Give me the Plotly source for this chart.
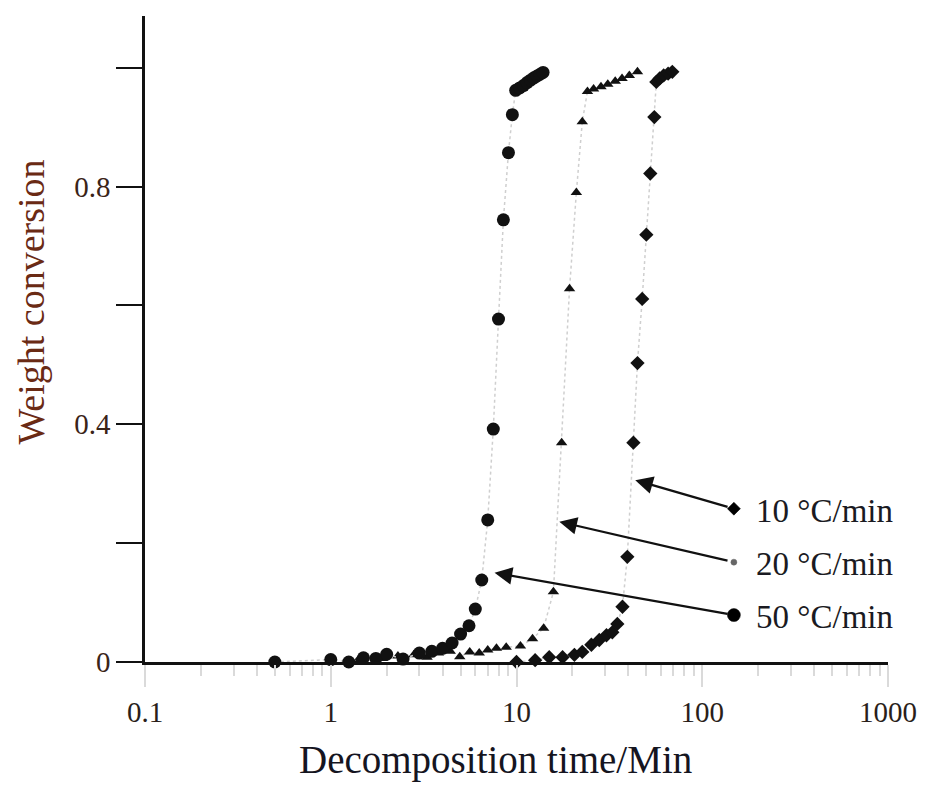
import numpy as np
import plotly.graph_objects as go

# ---------------- data ----------------
x50 = [0.5, 1.0, 1.25, 1.5, 1.75, 2.0, 2.45, 3.0, 3.5, 4.0, 4.5, 5.0, 5.55, 6.0, 6.5, 7.0, 7.5, 8.0, 8.5,
       9.05, 9.5, 9.9, 10.4, 10.9, 11.4, 11.9, 12.4, 12.9, 13.4, 13.9]
y50 = [0.0, 0.004, 0.0, 0.007, 0.006, 0.013, 0.005, 0.015, 0.018, 0.023, 0.032, 0.047, 0.061, 0.089, 0.138,
       0.239, 0.392, 0.577, 0.744, 0.857, 0.921, 0.962, 0.966, 0.970, 0.975, 0.979, 0.983, 0.986, 0.989, 0.992]

x20 = [1.4, 1.9, 2.3, 2.8, 3.3, 3.8, 4.4, 4.95, 5.6, 6.3, 7.0, 7.8, 8.8, 10.5, 12.2, 14.0, 15.8, 17.5, 19.3,
       21.0, 22.6, 24.1, 26.0, 28.5, 31.0, 34.0, 37.0, 40.5, 44.8]
y20 = [0.003, 0.006, 0.01, 0.012, 0.008, 0.015, 0.018, 0.009, 0.017, 0.015, 0.02, 0.023, 0.025, 0.027, 0.039,
       0.057, 0.118, 0.369, 0.628, 0.790, 0.909, 0.960, 0.964, 0.968, 0.972, 0.977, 0.982, 0.987, 0.993]

x10 = [10.0, 12.6, 15.0, 17.7, 20.5, 22.6, 25.3, 27.9, 30.5, 32.8, 34.9, 37.2, 39.5, 42.6, 44.8, 47.5, 50.0,
       52.5, 55.2, 56.6, 59.0, 62.0, 65.5, 69.0]
y10 = [0.0, 0.003, 0.008, 0.008, 0.012, 0.017, 0.029, 0.037, 0.045, 0.05, 0.064, 0.093, 0.177, 0.369, 0.503,
       0.611, 0.719, 0.822, 0.917, 0.976, 0.982, 0.987, 0.990, 0.993]

series_names = ["10 °C/min", "20 °C/min", "50 °C/min"]
# legend key positions (data coords) and arrow heads pointing at the curves
key_x = 148.0
key_y = [0.258, 0.168, 0.079]
arrow_head_x = [43.6, 17.0, 7.62]
arrow_head_y = [0.306, 0.236, 0.150]

x_tickvals = [0.1, 1, 10, 100, 1000]
x_ticktext = ["0.1", "1", "10", "100", "1000"]
y_tickvals = [0, 0.2, 0.4, 0.6, 0.8, 1.0]
y_ticktext = ["0", "", "0.4", "", "0.8", ""]

# ---------------- figure ----------------
SERIF = "Liberation Serif, Times New Roman, serif"
line_style = dict(color="#cfcfcf", width=1.5, dash="dot")

fig = go.Figure()
fig.add_trace(go.Scatter(x=x10, y=y10, mode="lines+markers", name=series_names[0], line=line_style,
                         marker=dict(symbol="diamond", size=11, color="#111111"), cliponaxis=False))
fig.add_trace(go.Scatter(x=x20, y=y20, mode="lines+markers", name=series_names[1], line=line_style,
                         marker=dict(symbol="triangle-up", size=10, color="#111111"), cliponaxis=False))
fig.add_trace(go.Scatter(x=x50, y=y50, mode="lines+markers", name=series_names[2], line=line_style,
                         marker=dict(symbol="circle", size=13, color="#111111"), cliponaxis=False))

for i in range(3):
    fig.add_annotation(x=np.log10(arrow_head_x[i]), y=arrow_head_y[i], xref="x", yref="y",
                       ax=np.log10(key_x), ay=key_y[i], axref="x", ayref="y",
                       text="", showarrow=True, arrowhead=2, arrowsize=1.6, arrowwidth=2.2,
                       arrowcolor="#111111", standoff=0, startstandoff=5)
    fig.add_annotation(x=np.log10(key_x), y=key_y[i], xref="x", yref="y", text=series_names[i],
                       showarrow=False, xanchor="left", xshift=20, yshift=-2,
                       font=dict(family=SERIF, size=33, color="#1a1a22"))

# legend keys (drawn after the arrows so they sit on top)
key_symbols = ["diamond", "circle", "circle"]
key_sizes = [10, 6, 13]
key_colors = ["#000000", "#666666", "#000000"]
for i in range(3):
    fig.add_trace(go.Scatter(x=[key_x], y=[key_y[i]], mode="markers", showlegend=False, hoverinfo="skip",
                             opacity=1.0,
                             marker=dict(symbol=key_symbols[i], size=key_sizes[i], color=key_colors[i],
                                         line=dict(width=0.5, color=key_colors[i])),
                             cliponaxis=False))

# axis titles as annotations for positioning
fig.add_annotation(x=0.472, y=-0.152, xref="paper", yref="paper", text="Decomposition time/Min",
                   showarrow=False, xanchor="center", yanchor="middle",
                   font=dict(family=SERIF, size=39, color="#15151f"))
fig.add_annotation(x=-0.153, y=0.557, xref="paper", yref="paper", text="Weight conversion",
                   showarrow=False, textangle=-90, xanchor="center", yanchor="middle",
                   font=dict(family=SERIF, size=38, color="#6a2a14"))

fig.update_xaxes(type="log", range=[-1, 3], showline=True, linecolor="#111111", linewidth=2.5,
                 tickvals=x_tickvals, ticktext=x_ticktext, ticks="outside", ticklen=22, tickwidth=1.5,
                 tickcolor="#dadada", ticklabelstandoff=0, automargin=False,
                 minor=dict(ticks="outside", ticklen=11, tickwidth=1.5, tickcolor="#dadada", dtick="D1",
                            showgrid=False),
                 showgrid=False, zeroline=False,
                 tickfont=dict(family=SERIF, size=29, color="#2a1e1a"))
fig.update_yaxes(range=[0, 1.087], showline=True, linecolor="#111111", linewidth=2.5,
                 tickvals=y_tickvals, ticktext=y_ticktext, ticks="outside", ticklen=26, tickwidth=2,
                 tickcolor="#111111", ticklabelstandoff=0, showgrid=False, zeroline=False, automargin=False,
                 tickfont=dict(family=SERIF, size=29, color="#3a2418"))

# page body has an 8px margin, so the figure is sized/offset to land on the reference layout
fig.update_layout(width=917, height=779, margin=dict(l=137, r=37, t=8, b=125),
                  paper_bgcolor="white", plot_bgcolor="white", showlegend=False)

fig.write_html("out.html")
